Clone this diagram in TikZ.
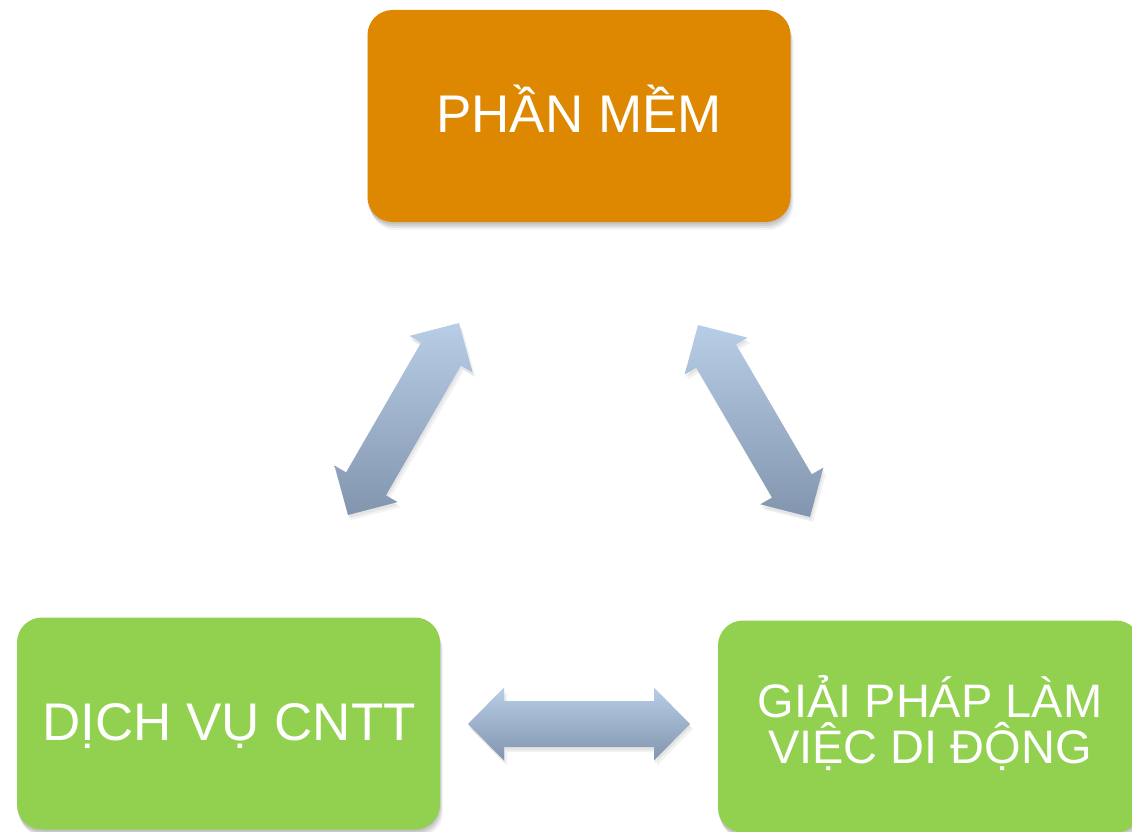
\documentclass[tikz,border=0pt]{standalone}
\usepackage{fontspec}
\setmainfont{Liberation Sans}
\usetikzlibrary{calc}
\definecolor{pmorange}{RGB}{221,136,0}
\definecolor{boxgreen}{RGB}{146,208,80}
\definecolor{arrtop}{RGB}{184,205,230}
\definecolor{arrbot}{RGB}{130,149,174}
\newcommand\dblarrowpath[3]{%
  \path[#3] (#1)
   -- ($(#1)!36pt!(#2)!36.5pt!90:(#2)$)
   -- ($(#1)!36pt!(#2)!23pt!90:(#2)$)
   -- ($(#2)!36pt!(#1)!23pt!-90:(#1)$)
   -- ($(#2)!36pt!(#1)!36.5pt!-90:(#1)$)
   -- (#2)
   -- ($(#2)!36pt!(#1)!36.5pt!90:(#1)$)
   -- ($(#2)!36pt!(#1)!23pt!90:(#1)$)
   -- ($(#1)!36pt!(#2)!23pt!-90:(#2)$)
   -- ($(#1)!36pt!(#2)!36.5pt!-90:(#2)$)
   -- cycle;}
\newcommand\blockarrow[2]{%
  \dblarrowpath{#1}{#2}{fill=black, opacity=0.06, transform canvas={shift={(1,3)}}}
  \dblarrowpath{#1}{#2}{fill=black, opacity=0.05, transform canvas={shift={(3,5)}}}
  \dblarrowpath{#1}{#2}{top color=arrtop, bottom color=arrbot}}
\tikzset{
  box/.style={rectangle, rounded corners=25pt, minimum width=423pt, minimum height=212pt,
    inner sep=0pt, draw=none,
    preaction={fill=black, opacity=0.08, transform canvas={shift={(0,2)}}},
    preaction={fill=black, opacity=0.08, transform canvas={shift={(1,4)}}},
    preaction={fill=black, opacity=0.07, transform canvas={shift={(2,6)}}},
    preaction={fill=black, opacity=0.04, transform canvas={shift={(3,8)}}}},
  lbl/.style={text=white, anchor=base, inner sep=0pt},
}
\begin{document}
\begin{tikzpicture}[x=1pt,y=-1pt]
\useasboundingbox (0,0) rectangle (1132,832);
\clip (0,0) rectangle (1132,832);
% boxes
\node[box, fill=pmorange] (pm) at (579,116) {};
\node[box, fill=boxgreen] (dv) at (228.5,723.5) {};
\node[box, fill=boxgreen] (gp) at (929.5,726.5) {};
% labels
\node[lbl, font=\fontsize{53}{60}\selectfont] (pmt) at (579,133) {PHẦN MỀM};
\node[lbl, font=\fontsize{53}{60}\selectfont] (dvt) at (229,740) {DỊCH VỤ CNTT};
\node[lbl, align=center, font=\fontsize{47}{46}\selectfont] (gpt) at (930,763) {GIẢI PHÁP LÀM\\VIỆC DI ĐỘNG};
% arrow ends
\coordinate (l1) at (348,515); \coordinate (l2) at (459,323);
\coordinate (r1) at (698,325); \coordinate (r2) at (810,517);
\coordinate (h1) at (468,724); \coordinate (h2) at (690,724);
\blockarrow{l1}{l2}
\blockarrow{r1}{r2}
\blockarrow{h1}{h2}
\end{tikzpicture}
\end{document}
